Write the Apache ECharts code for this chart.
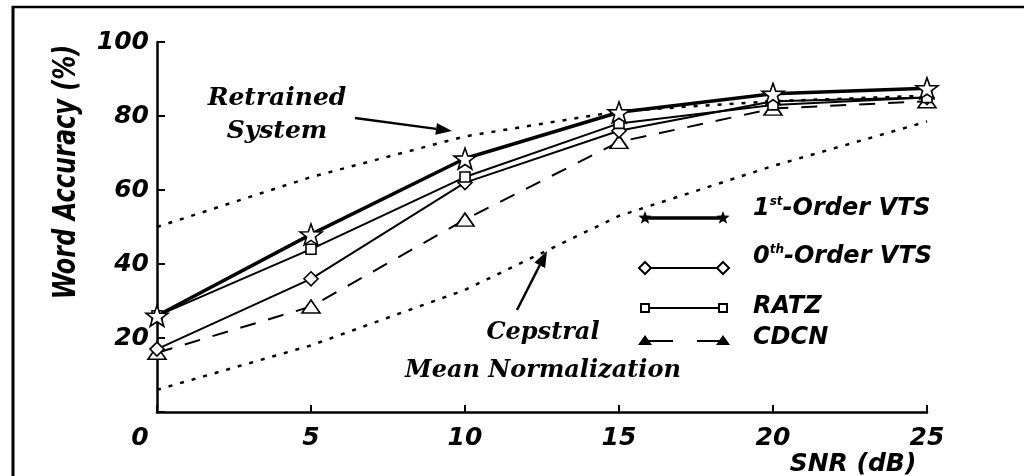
<!DOCTYPE html>
<html>
<head>
<meta charset="utf-8">
<script src="https://cdn.jsdelivr.net/npm/echarts@6/dist/echarts.min.js"></script>
<style>
  html, body { margin: 0; padding: 0; background: #fff; }
  #chart { width: 1024px; height: 476px; }
</style>
</head>
<body>
<div id="chart"></div>
<script>
// SNR (dB) vs word accuracy (%)
const snr = [0, 5, 10, 15, 20, 25];
const vts1 = [26, 48, 68.5, 81, 86, 87.5];
const vts0 = [17, 36, 62, 76, 84, 85];
const ratz = [26, 44, 63.5, 78, 83, 85];
const cdcn = [16, 28.5, 52, 73, 82, 84];
const retrained = [50, 63.5, 74.5, 81.3, 84, 85.5];
const cmn = [6, 18, 33, 53, 66.5, 78.5];
const yTicks = [0, 20, 40, 60, 80, 100];

const SANS = '"DejaVu Sans", sans-serif';
const SERIF = '"DejaVu Serif", serif';
const STAR = 'path://M0,-10L2.35,-3.24L9.51,-3.09L3.8,1.24L5.88,8.09L0,4.2L-5.88,8.09L-3.8,1.24L-9.51,-3.09L-2.35,-3.24Z';

function pairs(ys) {
  return snr.map((x, i) => [x, ys[i]]);
}

function markerSeries(name, ys, symbol, size, width, dash) {
  return {
    name: name,
    type: 'line',
    data: pairs(ys),
    symbol: symbol,
    symbolSize: size,
    symbolKeepAspect: true,
    clip: false,
    animation: false,
    itemStyle: {color: '#fff', borderColor: '#000', borderWidth: 1.6},
    lineStyle: {color: '#000', width: width, type: dash || 'solid'}
  };
}

function dottedSeries(name, ys) {
  return {
    name: name,
    type: 'line',
    data: pairs(ys),
    showSymbol: false,
    clip: false,
    animation: false,
    lineStyle: {color: '#000', width: 2.5, type: [4, 8]}
  };
}

function starPts(cx, cy, r) {
  const pts = [];
  for (let i = 0; i < 10; i++) {
    const a = -Math.PI / 2 + i * Math.PI / 5;
    const rr = i % 2 ? r * 0.42 : r;
    pts.push([cx + rr * Math.cos(a), cy + rr * Math.sin(a)]);
  }
  return pts;
}

function arrow(x1, y1, x2, y2) {
  const a = Math.atan2(y2 - y1, x2 - x1);
  const len = 16, wid = 6;
  const bx = x2 - len * Math.cos(a), by = y2 - len * Math.sin(a);
  const px = -Math.sin(a) * wid, py = Math.cos(a) * wid;
  return [
    {type: 'line', shape: {x1: x1, y1: y1, x2: bx, y2: by}, style: {stroke: '#000', lineWidth: 2.5}},
    {type: 'polygon', shape: {points: [[x2, y2], [bx + px, by + py], [bx - px, by - py]]}, style: {fill: '#000'}}
  ];
}

// legend drawn by hand: line sample with a marker at both ends
const legendRows = [
  {text: '1{s|st}-Order VTS', y: 218, ty: 209, mark: 'star', width: 3.5},
  {text: '0{s|th}-Order VTS', y: 268, ty: 257, mark: 'diamond', width: 2},
  {text: 'RATZ', y: 308, ty: 307, mark: 'rect', width: 2},
  {text: 'CDCN', y: 341, ty: 338, mark: 'triangle', width: 2}
];

function legendMark(kind, cx, cy) {
  if (kind === 'star') {
    return {type: 'polygon', shape: {points: starPts(cx, cy, 7)}, style: {fill: '#000'}};
  }
  if (kind === 'diamond') {
    return {type: 'polygon', shape: {points: [[cx, cy - 6], [cx + 6, cy], [cx, cy + 6], [cx - 6, cy]]},
      style: {fill: '#fff', stroke: '#000', lineWidth: 2}};
  }
  if (kind === 'rect') {
    return {type: 'rect', shape: {x: cx - 4, y: cy - 4, width: 8, height: 8},
      style: {fill: '#fff', stroke: '#000', lineWidth: 2}};
  }
  return {type: 'polygon', shape: {points: [[cx, cy - 6], [cx + 7, cy + 4], [cx - 7, cy + 4]]}, style: {fill: '#000'}};
}

const graphics = [
  {type: 'line', shape: {x1: 12, y1: 7, x2: 1024, y2: 7}, style: {stroke: '#000', lineWidth: 2.5}},
  {type: 'line', shape: {x1: 13, y1: 6, x2: 13, y2: 476}, style: {stroke: '#000', lineWidth: 3}},
  {type: 'text', x: 67, y: 172, rotation: Math.PI / 2, scaleY: 1.3,
    style: {text: 'Word Accuracy (%)', font: 'italic bold 24px ' + SANS, fill: '#000', align: 'center', verticalAlign: 'middle'}},
  {type: 'text', x: 853, y: 464,
    style: {text: 'SNR (dB)', font: 'italic bold 25px ' + SANS, fill: '#000', align: 'center', verticalAlign: 'middle'}},
  {type: 'text', x: 277, y: 98,
    style: {text: 'Retrained', font: 'italic bold 25px ' + SERIF, fill: '#000', align: 'center', verticalAlign: 'middle'}},
  {type: 'text', x: 277, y: 131,
    style: {text: 'System', font: 'italic bold 25px ' + SERIF, fill: '#000', align: 'center', verticalAlign: 'middle'}},
  {type: 'text', x: 543, y: 333,
    style: {text: 'Cepstral', font: 'italic bold 24px ' + SERIF, fill: '#000', align: 'center', verticalAlign: 'middle'}},
  {type: 'text', x: 543, y: 371,
    style: {text: 'Mean Normalization', font: 'italic bold 24px ' + SERIF, fill: '#000', align: 'center', verticalAlign: 'middle'}}
]
  .concat(arrow(355, 118, 452, 131))
  .concat(arrow(517, 310, 547, 251));

legendRows.forEach(row => {
  if (row.mark === 'triangle') {
    graphics.push({type: 'line', shape: {x1: 643, y1: row.y, x2: 673, y2: row.y}, style: {stroke: '#000', lineWidth: row.width}});
    graphics.push({type: 'line', shape: {x1: 697, y1: row.y, x2: 727, y2: row.y}, style: {stroke: '#000', lineWidth: row.width}});
  } else {
    graphics.push({type: 'line', shape: {x1: 645, y1: row.y, x2: 723, y2: row.y}, style: {stroke: '#000', lineWidth: row.width}});
  }
  graphics.push(legendMark(row.mark, 645, row.y));
  graphics.push(legendMark(row.mark, 723, row.y));
  graphics.push({type: 'text', x: 753, y: row.ty, style: {
    text: row.text, font: 'italic bold 24px ' + SANS, fill: '#000', align: 'left', verticalAlign: 'middle',
    rich: {s: {font: 'italic bold 12px ' + SANS, fill: '#000', padding: [0, 0, 14, 0]}}
  }});
});

const chart = echarts.init(document.getElementById('chart'));
chart.setOption({
  backgroundColor: '#fff',
  animation: false,
  grid: {left: 157, right: 97, top: 42, bottom: 64},
  xAxis: {
    type: 'value',
    min: 0,
    max: 25,
    interval: 5,
    axisLine: {lineStyle: {color: '#000', width: 2.5}},
    axisTick: {inside: true, length: 7, lineStyle: {color: '#000', width: 2}},
    splitLine: {show: false},
    axisLabel: {
      margin: 14,
      color: '#000',
      fontFamily: SANS,
      fontSize: 25,
      fontStyle: 'italic',
      fontWeight: 'bold',
      formatter: v => (v === 0 ? '{z|0}' : String(v)),
      rich: {z: {fontFamily: SANS, fontSize: 25, fontStyle: 'italic', fontWeight: 'bold', color: '#000', padding: [0, 34, 0, 0]}}
    }
  },
  yAxis: {
    type: 'value',
    min: yTicks[0],
    max: yTicks[yTicks.length - 1],
    interval: 20,
    axisLine: {show: true, lineStyle: {color: '#000', width: 2.5}},
    axisTick: {show: true, inside: true, length: 8, lineStyle: {color: '#000', width: 2}},
    splitLine: {show: false},
    axisLabel: {
      margin: 8,
      color: '#000',
      fontFamily: SANS,
      fontSize: 25,
      fontStyle: 'italic',
      fontWeight: 'bold',
      formatter: v => (v === 0 ? '' : String(v))
    }
  },
  graphic: graphics,
  series: [
    dottedSeries('Retrained System', retrained),
    dottedSeries('Cepstral Mean Normalization', cmn),
    markerSeries('CDCN', cdcn, 'triangle', [18, 13], 2, [16, 13]),
    markerSeries('0th-Order VTS', vts0, 'diamond', 14, 2),
    markerSeries('RATZ', ratz, 'rect', 10, 2),
    markerSeries('1st-Order VTS', vts1, STAR, 22, 3.5)
  ]
});
</script>
</body>
</html>
